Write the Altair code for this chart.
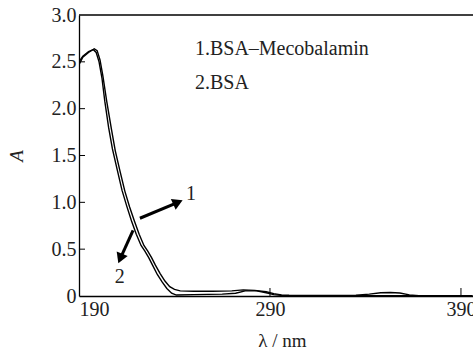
import altair as alt
import pandas as pd

# Curve 1: BSA-Mecobalamin
nm1 = [190, 192, 195, 198, 199.5, 201, 202.5, 204.5, 207, 209, 211.5, 214, 216.5, 219, 221.5,
       224, 226, 228, 230, 232.5, 235, 237.5, 240, 243, 250, 260, 270, 276, 282, 288, 292, 296,
       300, 320, 335, 342, 348, 353, 358, 363, 368, 380, 396]
a1 = [2.47, 2.55, 2.60, 2.64, 2.62, 2.52, 2.35, 2.08, 1.78, 1.55, 1.33, 1.12, 0.95, 0.80, 0.66,
      0.54, 0.48, 0.41, 0.33, 0.24, 0.16, 0.10, 0.07, 0.055, 0.05, 0.05, 0.055, 0.065, 0.06, 0.045,
      0.025, 0.012, 0.008, 0.005, 0.008, 0.02, 0.035, 0.038, 0.032, 0.012, 0.004, 0.003, 0.003]
# Curve 2: BSA
nm2 = [190, 192, 195, 197.5, 199, 200.5, 202, 203.5, 205.5, 207.5, 210, 212.5, 215, 217.5, 220,
       222.5, 224.5, 226.5, 228.5, 231, 233.5, 236, 238.5, 241, 250, 265, 272, 277, 283, 288, 292,
       296, 300, 396]
a2 = [2.50, 2.56, 2.61, 2.63, 2.60, 2.50, 2.33, 2.08, 1.80, 1.57, 1.35, 1.13, 0.96, 0.80, 0.66,
      0.54, 0.48, 0.41, 0.33, 0.23, 0.15, 0.08, 0.03, 0.01, 0.015, 0.02, 0.03, 0.055, 0.055, 0.035,
      0.015, 0.006, 0.003, 0.002]

legend_lines = ["1.BSA\u2013Mecobalamin", "2.BSA"]
legend_a = [2.64, 2.27]
legend_x = [250.7, 250.7]

arrow_labels = ["1", "2"]
arrow_x0 = [221.9, 218.3]
arrow_y0 = [0.83, 0.70]
arrow_x1 = [241.8, 211.6]
arrow_y1 = [1.00, 0.40]
arrow_angle = [66, 202]
label_x = [248.6, 211.4]
label_y = [1.09, 0.20]

y_ticks = [0, 0.5, 1.0, 1.5, 2.0, 2.5, 3.0]
x_ticks = [190, 290, 390]
inner_y_ticks = [0.5, 1.0, 1.5, 2.0, 2.5]
inner_x_ticks = [290, 390]

FONT = "Liberation Serif"
TXT = "#222222"

df = pd.concat([
    pd.DataFrame({"nm": nm1, "A": a1, "s": "1"}),
    pd.DataFrame({"nm": nm2, "A": a2, "s": "2"}),
])

xs = alt.Scale(domain=[190, 396.3], nice=False, zero=False)
ys = alt.Scale(domain=[0, 3.0], nice=False)

xaxis = alt.Axis(values=x_ticks, tickSize=0, grid=False, domainColor="black", domainWidth=1.3,
                 labelFont=FONT, labelFontSize=20, labelColor=TXT, labelPadding=3,
                 title="\u03bb / nm", titleFont=FONT, titleFontSize=19, titleFontWeight="normal",
                 titleColor=TXT, titleX=203, titleY=44, titleBaseline="middle")
yaxis = alt.Axis(values=y_ticks, tickSize=0, grid=False, domainColor="black", domainWidth=1.3,
                 labelFont=FONT, labelFontSize=20, labelColor=TXT, labelPadding=3,
                 labelExpr="datum.value == 0 ? '0' : format(datum.value, '.1f')",
                 title="A", titleFont=FONT, titleFontSize=19, titleFontStyle="italic",
                 titleFontWeight="normal", titleColor=TXT, titleX=-53)

lines = alt.Chart(df).mark_line(color="black", strokeWidth=1.4, clip=True).encode(
    x=alt.X("nm:Q", scale=xs, axis=xaxis),
    y=alt.Y("A:Q", scale=ys, axis=yaxis),
    detail="s:N",
)

top = alt.Chart(pd.DataFrame({"v": [3.0]})).mark_rule(color="black", strokeWidth=1.3).encode(
    y=alt.Y("v:Q", scale=ys)
)

yt = alt.Chart(pd.DataFrame({"v": inner_y_ticks})).mark_rule(color="black", strokeWidth=1).encode(
    y=alt.Y("v:Q", scale=ys), x=alt.value(0), x2=alt.value(6)
)
xt = alt.Chart(pd.DataFrame({"v": inner_x_ticks})).mark_rule(color="black", strokeWidth=1).encode(
    x=alt.X("v:Q", scale=xs), y=alt.value(281), y2=alt.value(273)
)

leg = alt.Chart(pd.DataFrame({"t": legend_lines, "a": legend_a, "x": legend_x})).mark_text(
    font=FONT, fontSize=20, color=TXT, align="left", baseline="middle"
).encode(x=alt.X("x:Q", scale=xs), y=alt.Y("a:Q", scale=ys), text="t:N")

arr = pd.DataFrame({"x0": arrow_x0, "y0": arrow_y0, "x1": arrow_x1, "y1": arrow_y1,
                    "ang": arrow_angle, "lab": arrow_labels, "lx": label_x, "ly": label_y})
shaft = alt.Chart(arr).mark_rule(color="black", strokeWidth=3).encode(
    x=alt.X("x0:Q", scale=xs), y=alt.Y("y0:Q", scale=ys), x2="x1:Q", y2="y1:Q"
)
head = alt.Chart(arr).mark_point(shape="triangle-up", filled=True, color="black", opacity=1,
                                 size=140).encode(
    x=alt.X("x1:Q", scale=xs), y=alt.Y("y1:Q", scale=ys), angle=alt.Angle("ang:Q", scale=None)
)
alab = alt.Chart(arr).mark_text(font=FONT, fontSize=20, color=TXT, align="center",
                                baseline="middle").encode(
    x=alt.X("lx:Q", scale=xs), y=alt.Y("ly:Q", scale=ys), text="lab:N"
)

chart = alt.layer(lines, top, yt, xt, leg, shaft, head, alab).properties(
    width=394, height=281,
    autosize=alt.AutoSizeParams(type="none"),
    padding={"left": 79, "top": 15, "right": 0, "bottom": 54},
    background="white",
).configure_view(strokeWidth=0)

chart.save("out.html", embed_options={"renderer": "svg", "actions": False})
